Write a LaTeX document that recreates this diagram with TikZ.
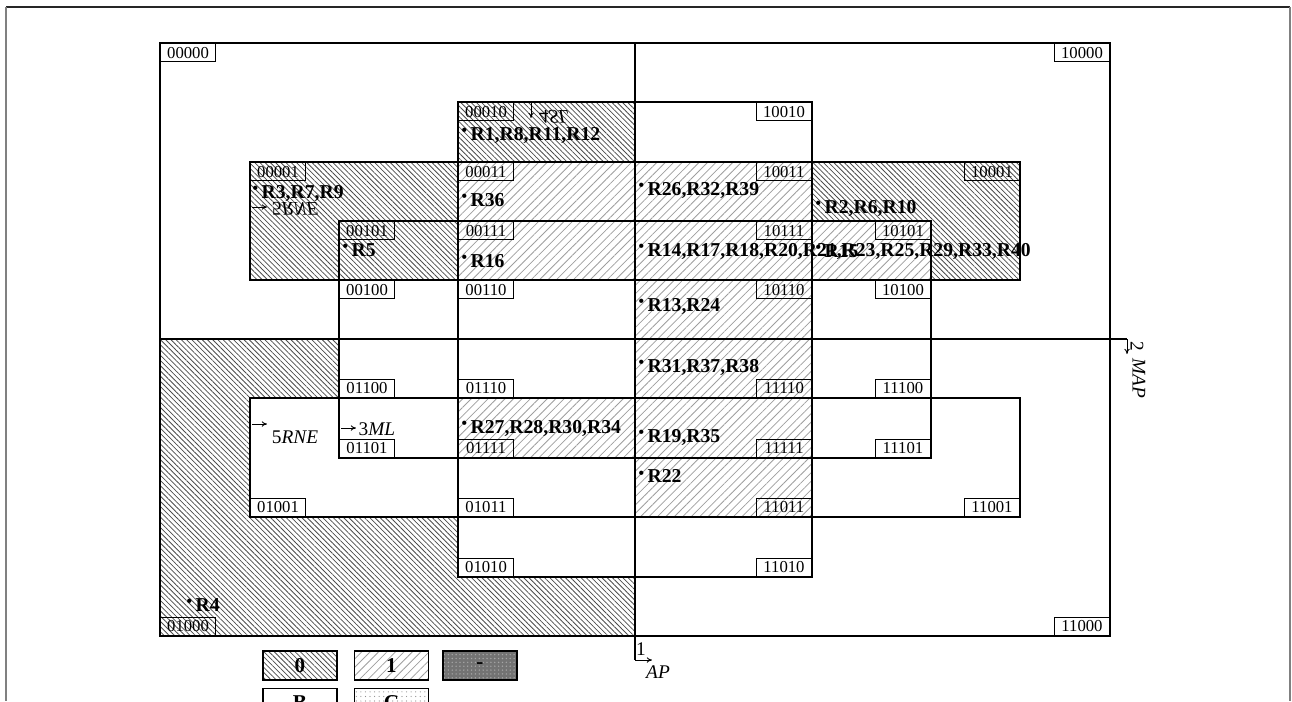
\documentclass[tikz,border=0pt]{standalone}
\usepackage{fontspec}
\setmainfont{Liberation Serif}
\usetikzlibrary{arrows.meta,patterns.meta}
\newcommand\rdot{\raisebox{.5ex}{\scalebox{.8}{\textbullet}}\hspace{2pt}}
\tikzset{
	code/.style={draw,line width=.6pt,minimum width=1.1cm,minimum height=.36cm,inner sep=0pt,
		font=\fontsize{9.5}{10}\selectfont},
	rlist/.style={anchor=west,inner sep=0pt,font=\fontsize{11.2}{12}\selectfont\bfseries},
	var/.style={inner sep=0pt,font=\fontsize{11}{12}\selectfont},
	zero/.style={pattern={Lines[angle=-45,distance=2.1pt,line width=.45pt]},pattern color=black!70},
	one/.style={pattern={Lines[angle=45,distance=3.4pt,line width=.45pt]},pattern color=black!38},
	key/.style={draw,line width=.6pt,minimum width=1.48cm,minimum height=.58cm,inner sep=0pt,
		font=\fontsize{12}{12}\selectfont\bfseries},
	tip/.style={-{To[length=3pt,width=3pt]},line width=.5pt},
}
\begin{document}
\begin{tikzpicture}[x=0.02cm,y=-0.02cm,line width=.7pt]
	\useasboundingbox (0,0) rectangle (1292,701);
	% page frame
	\draw[black!85,line width=.6pt] (6,7) -- (1290,7);
	\draw[black!50,line width=.8pt] (6,7) -- (6,701);
	\draw[black!50,line width=.8pt] (1290,7) -- (1290,701);
	% cells with value 0
	\fill[zero] (458,102) rectangle (635,162);
	\fill[zero] (250,162) rectangle (458,280);
	\fill[zero] (812,162) -- (1020,162) -- (1020,280) -- (931,280) -- (931,221) -- (812,221) -- cycle;
	\fill[zero] (160,339) -- (339,339) -- (339,398) -- (250,398) -- (250,517) -- (458,517)
		-- (458,577) -- (635,577) -- (635,636) -- (160,636) -- cycle;
	% cells with value 1
	\fill[one] (458,162) rectangle (635,280);
	\fill[one] (635,162) rectangle (812,517);
	\fill[one] (812,221) rectangle (931,280);
	\fill[one] (458,398) rectangle (635,458);
	% map regions
	\draw (160,43) rectangle (1110,636);
	\draw (458,102) rectangle (812,577);
	\draw (250,162) rectangle (1020,280);
	\draw (250,398) rectangle (1020,517);
	\draw (339,221) rectangle (931,458);
	% axes 1 and 2
	\coordinate (apT) at (635,43);
	\coordinate (apB) at (635,660);
	\coordinate (apE) at (652,660);
	\coordinate (mapL) at (160,339);
	\coordinate (mapR) at (1127,339);
	\coordinate (mapE) at (1127,354);
	\draw (apT) -- (apB);
	\draw[tip] (apB) -- (apE);
	\draw (mapL) -- (mapR);
	\draw[tip] (mapR) -- (mapE);
	\node[var] (ax1) at (641,649) {1};
	\node[var] (ax1n) at (658,672) {\textit{AP}};
	\node[var,rotate=-90] (ax2) at (1137,346) {2};
	\node[var,rotate=-90] (ax2n) at (1139,378) {\textit{MAP}};
	% cell codes
	\foreach \c/\x/\y in {00000/160/43,00010/458/102,00001/250/162,00011/458/162,
		00101/339/221,00111/458/221,00100/339/280,00110/458/280}
		\node[code,anchor=north west] (c\c) at (\x,\y) {\c};
	\foreach \c/\x/\y in {10000/1110/43,10010/812/102,10011/812/162,10001/1020/162,
		10111/812/221,10101/931/221,10110/812/280,10100/931/280}
		\node[code,anchor=north east] (c\c) at (\x,\y) {\c};
	\foreach \c/\x/\y in {01100/339/398,01110/458/398,01101/339/458,01111/458/458,
		01001/250/517,01011/458/517,01010/458/577,01000/160/636}
		\node[code,anchor=south west] (c\c) at (\x,\y) {\c};
	\foreach \c/\x/\y in {11110/812/398,11100/931/398,11111/812/458,11101/931/458,
		11011/812/517,11001/1020/517,11010/812/577,11000/1110/636}
		\node[code,anchor=south east] (c\c) at (\x,\y) {\c};
	% variables 3, 4, 5
	\coordinate (slA) at (531,103);
	\coordinate (slB) at (531,118);
	\draw[tip] (slA) -- (slB);
	\node[var,yscale=-1,transform shape] (sl) at (554,117) {4\textit{SL}};
	\coordinate (rneA) at (252,207);
	\coordinate (rneB) at (267,207);
	\draw[tip] (rneA) -- (rneB);
	\node[var,yscale=-1,transform shape] (rneT) at (295,209) {5\textit{RNE}};
	\coordinate (rneC) at (252,424);
	\coordinate (rneD) at (267,424);
	\draw[tip] (rneC) -- (rneD);
	\node[var] (rneL) at (295,437) {5\textit{RNE}};
	\coordinate (mlA) at (341,428);
	\coordinate (mlB) at (356,428);
	\draw[tip] (mlA) -- (mlB);
	\node[var,anchor=west] (ml) at (358,429) {3\textit{ML}};
	% rules in the cells
	\node[rlist] (r00010) at (461,135) {\rdot R1,R8,R11,R12};
	\node[rlist] (r00001) at (252,193) {\rdot R3,R7,R9};
	\node[rlist] (r00011) at (461,200) {\rdot R36};
	\node[rlist] (r00101) at (342,250) {\rdot R5};
	\node[rlist] (r00111) at (461,261) {\rdot R16};
	\node[rlist] (r10011) at (638,190) {\rdot R26,R32,R39};
	\node[rlist] (r10001) at (815,208) {\rdot R2,R6,R10};
	\node[rlist] (r10111) at (638,251) {\rdot R14,R17,R18,R20,R21,R23,R25,R29,R33,R40};
	\node[rlist] (r10101) at (815,251) {\rdot R15};
	\node[rlist] (r10110) at (638,306) {\rdot R13,R24};
	\node[rlist] (r11110) at (638,367) {\rdot R31,R37,R38};
	\node[rlist] (r01111) at (461,428) {\rdot R27,R28,R30,R34};
	\node[rlist] (r11111) at (638,437) {\rdot R19,R35};
	\node[rlist] (r11011) at (638,476) {\rdot R22};
	\node[rlist] (r01000) at (186,605) {\rdot R4};
	% legend
	\node[key,zero] (k0) at (300,665.5) {0};
	\node[key,one] (k1) at (391.5,665.5) {1};
	\node[key,pattern={Dots[distance=2.2pt,radius=.45pt]},pattern color=black!35,
		preaction={fill=black!55}] (kd) at (480,665.5) {-};
	\node[key] (kB) at (300,703) {B};
	\node[key,pattern={Dots[distance=2.6pt,radius=.35pt]},pattern color=black!45] (kC) at (391.5,703) {C};
\end{tikzpicture}
\end{document}
